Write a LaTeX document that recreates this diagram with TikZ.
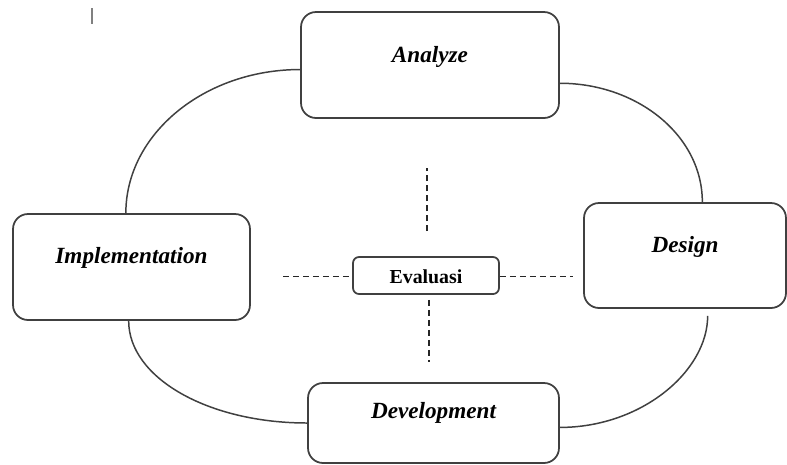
\documentclass[tikz,border=0pt]{standalone}
\usepackage{fontspec}
\setmainfont{Liberation Serif}
\begin{document}
\begin{tikzpicture}[x=0.02cm,y=-0.02cm,
  phase/.style={draw=black!75,line width=1pt,rounded corners=0.3cm,inner sep=0pt,
    font=\fontsize{13.2}{15}\selectfont\bfseries\itshape},
  evalbox/.style={draw=black!75,line width=1pt,rounded corners=0.12cm,inner sep=0pt,
    font=\fontsize{11.3}{13}\selectfont\bfseries},
  cycle/.style={draw=black!75,line width=0.85pt},
  dashline/.style={draw=black!85,line width=0.75pt,dash pattern=on 0.12cm off 0.08cm}]
\useasboundingbox (0,0) rectangle (787,464);
\draw[gray,line width=0.8pt] (92,8) -- (92,24);
% the four phases
\node[phase,minimum width=5.16cm,text height=1cm,text depth=1.12cm] (ana) at (430,65) {Analyze};
\node[phase,minimum width=4.74cm,text height=0.98cm,text depth=1.14cm] (imp) at (131.5,267) {Implementation};
\node[phase,minimum width=4.04cm,text height=0.98cm,text depth=1.12cm] (des) at (685,255.5) {Design};
\node[phase,minimum width=5.02cm,text height=0.7cm,text depth=0.9cm] (dev) at (433.5,423) {Development};
\node[evalbox,minimum width=2.92cm,text height=0.52cm,text depth=0.22cm] (eva) at (426,275.5) {Evaluasi};
% cycle
\draw[cycle] (ana.182) .. controls +(-96,0) and +(0,-79) .. (imp.96);
\draw[cycle] (imp.-93) .. controls +(0,57) and +(-99,0) .. (dev.west);
\draw[cycle] (ana.-8) .. controls +(77,0) and +(0,-67) .. (des.72);
\draw[cycle,shorten <=0.14cm] (des.-67) .. controls +(0,62) and +(82,0) .. (dev.-2);
% evaluation cross
\coordinate (el) at (283,276.5);
\coordinate (er) at (573,276.5);
\coordinate (eu) at (427,168);
\coordinate (ed) at (429,362);
\draw[dashline] (el) -- (eva.west |- el);
\draw[dashline] (eva.east |- er) -- (er);
\draw[dashline,shorten <=0.5cm] (eva.north -| eu) -- (eu);
\draw[dashline,shorten <=0.1cm] (eva.south -| ed) -- (ed);
\end{tikzpicture}
\end{document}
